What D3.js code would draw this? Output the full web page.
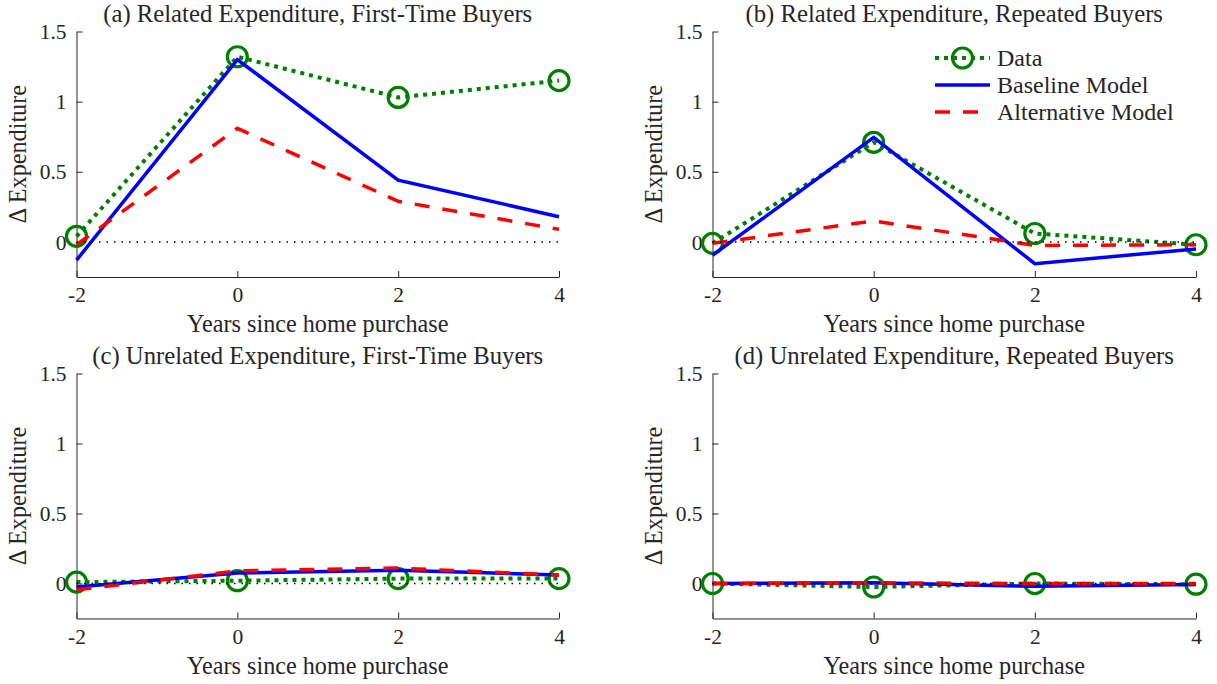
<!DOCTYPE html>
<html>
<head>
<meta charset="utf-8">
<script src="https://cdn.jsdelivr.net/npm/d3@7"></script>
<style>
  html, body { margin: 0; padding: 0; background: #fff; }
  svg { display: block; }
  text { font-family: "Liberation Serif", "DejaVu Serif", serif; fill: #262626; }
</style>
</head>
<body>
<svg id="chart" width="1217" height="684"></svg>
<script>
// Event-time grid (years relative to purchase) and axis ticks
const years = [-2, 0, 2, 4];
const xTicks = [-2, 0, 2, 4];
const xTickLabels = ["-2", "0", "2", "4"];
const yTicks = [0, 0.5, 1, 1.5];
const yTickLabels = ["0", "0.5", "1", "1.5"];

const panelTitles = [
  "(a) Related Expenditure, First-Time Buyers",
  "(b) Related Expenditure, Repeated Buyers",
  "(c) Unrelated Expenditure, First-Time Buyers",
  "(d) Unrelated Expenditure, Repeated Buyers"
];
const seriesNames = ["Data", "Baseline Model", "Alternative Model"];

// (a) related, first-time buyers
const dataRelFirst = [0.04, 1.32, 1.03, 1.15];
const baseRelFirst = [-0.13, 1.30, 0.44, 0.18];
const altRelFirst  = [-0.02, 0.81, 0.29, 0.09];
// (b) related, repeated buyers
const dataRelRepeat = [-0.01, 0.71, 0.06, -0.02];
const baseRelRepeat = [-0.095, 0.745, -0.155, -0.05];
const altRelRepeat  = [-0.01, 0.15, -0.025, -0.02];
// (c) unrelated, first-time buyers
const dataUnrelFirst = [0.01, 0.02, 0.035, 0.035];
const baseUnrelFirst = [-0.025, 0.075, 0.095, 0.06];
const altUnrelFirst  = [-0.045, 0.09, 0.11, 0.06];
// (d) unrelated, repeated buyers
const dataUnrelRepeat = [0.0, -0.025, 0.0, -0.005];
const baseUnrelRepeat = [0.0, 0.005, -0.02, -0.007];
const altUnrelRepeat  = [0.0, 0.005, 0.0, 0.0];

const panelData = [
  [dataRelFirst, baseRelFirst, altRelFirst],
  [dataRelRepeat, baseRelRepeat, altRelRepeat],
  [dataUnrelFirst, baseUnrelFirst, altUnrelFirst],
  [dataUnrelRepeat, baseUnrelRepeat, altUnrelRepeat]
];

// Panel boxes: left/right of x range, top (y=1.5) / bottom (y=-0.25)
const boxes = [
  { x0: 76.5, x1: 559, y0: 31.5, y1: 277 },
  { x0: 712.5, x1: 1196, y0: 31.5, y1: 277 },
  { x0: 76.5, x1: 559, y0: 373.5, y1: 618.5 },
  { x0: 712.5, x1: 1196, y0: 373.5, y1: 618.5 }
];

const ink = "#262626";
const labelSize = "24.2px";
const legendSize = "24px";
const titleSize = "24.7px";
const tickSize = "21.5px";
const styles = [
  { color: "#008000", width: 4, dash: "4 5" },
  { color: "#0000ff", width: 3.5, dash: null },
  { color: "#ff0000", width: 3.5, dash: "15 13" }
];

const svg = d3.select("#chart");

boxes.forEach((b, i) => {
  const x = d3.scaleLinear().domain([-2, 4]).range([b.x0, b.x1]);
  const y = d3.scaleLinear().domain([-0.25, 1.5]).range([b.y1, b.y0]);
  const g = svg.append("g");

  // axes with inward ticks and no surrounding box
  const xAxis = g.append("g").attr("transform", `translate(0,${b.y1})`)
    .call(d3.axisBottom(x).tickValues(xTicks).tickSizeInner(-6).tickSizeOuter(0).tickPadding(10)
      .tickFormat((d, k) => xTickLabels[k]));
  const yAxis = g.append("g").attr("transform", `translate(${b.x0},0)`)
    .call(d3.axisLeft(y).tickValues(yTicks).tickSizeInner(-6).tickSizeOuter(0).tickPadding(10)
      .tickFormat((d, k) => yTickLabels[k]));
  [xAxis, yAxis].forEach(ax => {
    ax.select(".domain").attr("stroke", ink).attr("stroke-width", 1);
    ax.selectAll(".tick line").attr("stroke", ink);
    ax.selectAll(".tick text").style("font-family", "'Liberation Serif', serif")
      .style("font-size", tickSize).attr("fill", ink);
  });
  xAxis.selectAll(".tick text").attr("dy", "0.71em");
  yAxis.selectAll(".tick text").attr("dy", "0.33em");

  // title and axis labels
  const cx = (b.x0 + b.x1) / 2;
  g.append("text").attr("x", cx).attr("y", b.y0 - 10).attr("text-anchor", "middle")
    .style("font-size", titleSize).text(panelTitles[i]);
  g.append("text").attr("x", cx).attr("y", b.y1 + 55).attr("text-anchor", "middle")
    .style("font-size", labelSize).text("Years since home purchase");
  g.append("text")
    .attr("transform", `translate(${b.x0 - 51},${(b.y0 + b.y1) / 2}) rotate(-90)`)
    .attr("text-anchor", "middle").style("font-size", labelSize).text("\u0394 Expenditure");

  const line = d3.line().x((d, k) => x(years[k])).y(d => y(d));

  panelData[i].forEach((vals, s) => {
    const st = styles[s];
    g.append("path").datum(vals).attr("d", line)
      .attr("fill", "none").attr("stroke", st.color).attr("stroke-width", st.width)
      .attr("stroke-dasharray", st.dash).attr("stroke-linejoin", "miter");
    if (s === 0) {
      g.selectAll(null).data(vals).enter().append("circle")
        .attr("cx", (d, k) => x(years[k])).attr("cy", d => y(d)).attr("r", 10)
        .attr("fill", "none").attr("stroke", st.color).attr("stroke-width", 3.2);
    }
  });

  // zero reference line
  g.append("line").attr("x1", x(-2)).attr("x2", x(4)).attr("y1", y(0)).attr("y2", y(0))
    .attr("stroke", "#000").attr("stroke-width", 1.5).attr("stroke-dasharray", "1.5 6");
});

// legend in panel (b)
const leg = svg.append("g");
const legY = [58, 85, 112];
seriesNames.forEach((name, s) => {
  const st = styles[s];
  leg.append("line").attr("x1", 935).attr("x2", 990).attr("y1", legY[s]).attr("y2", legY[s])
    .attr("stroke", st.color).attr("stroke-width", st.width).attr("stroke-dasharray", st.dash);
  if (s === 0) {
    leg.append("circle").attr("cx", 962.5).attr("cy", legY[s]).attr("r", 10)
      .attr("fill", "none").attr("stroke", st.color).attr("stroke-width", 3.2);
  }
  leg.append("text").attr("x", 997).attr("y", legY[s]).attr("dy", "0.33em")
    .style("font-size", legendSize).text(name);
});
</script>
</body>
</html>
